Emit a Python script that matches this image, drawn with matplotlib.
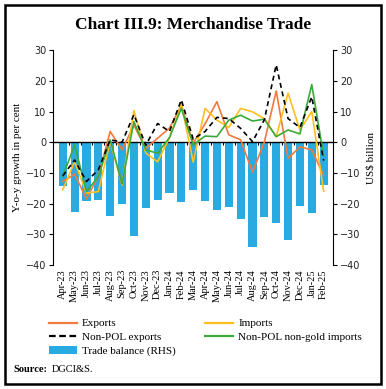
import matplotlib
matplotlib.use("Agg")
import matplotlib.pyplot as plt
from matplotlib.patches import Rectangle
from matplotlib.lines import Line2D
from matplotlib.patches import Patch
import numpy as np

months = ["Apr-23", "May-23", "Jun-23", "Jul-23", "Aug-23", "Sep-23", "Oct-23", "Nov-23",
          "Dec-23", "Jan-24", "Feb-24", "Mar-24", "Apr-24", "May-24", "Jun-24", "Jul-24",
          "Aug-24", "Sep-24", "Oct-24", "Nov-24", "Dec-24", "Jan-25", "Feb-25"]

exports = [-12.8, -10.4, -18.5, -11.0, 3.5, -2.5, 5.5, -2.0, 1.3, 4.6, 12.0, -0.3,
           6.0, 13.2, 2.4, 0.8, -9.8, 0.0, 16.7, -5.3, -1.5, -2.5, -10.8]
imports = [-15.5, -6.3, -16.6, -16.1, 0.3, -14.0, 10.3, -3.5, -6.4, 1.5, 12.5, -6.5,
           11.0, 7.2, 4.8, 11.0, 9.9, 7.7, 1.8, 16.0, 4.0, 10.0, -16.0]
nonpol_exports = [-11.0, -5.8, -12.8, -9.0, 0.8, 0.0, 9.0, -1.0, 6.1, 3.5, 13.8, 1.0,
                  3.5, 8.1, 7.7, 4.5, 0.2, 7.3, 25.2, 7.7, 4.8, 14.8, -6.0]
nonpol_nongold_imports = [-11.2, -0.9, -16.1, -11.2, 0.8, -13.6, 6.7, -2.5, -3.6, 1.5, 11.1, -0.9,
                          2.0, 1.8, 7.2, 8.8, 6.9, 7.5, 1.8, 4.0, 2.7, 18.8, -4.5]
trade_balance = [-14.4, -22.6, -19.1, -18.9, -24.0, -20.1, -30.5, -21.4, -18.8, -16.5, -19.5, -15.5,
                 -19.2, -22.1, -21.0, -24.9, -34.1, -24.4, -26.2, -31.9, -20.8, -23.0, -14.1]

yticks = [30, 20, 10, 0, -10, -20, -30, -40]

serif = ["Liberation Serif", "DejaVu Serif"]

fig = plt.figure(figsize=(3.86, 3.89), dpi=100)
fig.patch.set_facecolor("white")
fig.patches.append(Rectangle((0.014, 0.012), 0.972, 0.976, transform=fig.transFigure,
                             fill=False, edgecolor="black", linewidth=1.8))

ax = fig.add_axes([0.138, 0.319, 0.725, 0.552])
ax2 = ax.twinx()

x = np.arange(len(months))
ax2.bar(x, trade_balance, width=0.68, color="#29abe2", zorder=1)

ax.plot(x, exports, color="#f07a3e", lw=1.2, zorder=3)
ax.plot(x, imports, color="#ffbf1f", lw=1.2, zorder=3)
ax.plot(x, nonpol_nongold_imports, color="#3aaa3a", lw=1.2, zorder=4)
ax.plot(x, nonpol_exports, color="black", lw=1.2, ls=(0, (3.0, 2.2)), zorder=5)

ax.set_zorder(ax2.get_zorder() + 1)
ax.patch.set_visible(False)

for a in (ax, ax2):
    a.set_ylim(-40, 30)
    a.set_xlim(-0.8, len(months) - 0.2)
    a.set_yticks(yticks)
    a.tick_params(axis="y", labelsize=7, length=3, width=0.8, pad=2, labelcolor="#222222")
    a.spines["top"].set_visible(False)

ax.spines["right"].set_visible(False)
ax2.spines["left"].set_visible(False)
ax2.spines["bottom"].set_visible(False)
ax.spines["bottom"].set_position(("data", 0))
ax.spines["bottom"].set_linewidth(1.0)
ax.set_xticks(x[:-1] + 0.5)
ax.set_xticklabels([])
ax.tick_params(axis="x", direction="out", length=2.5, width=0.8)

sec = ax.secondary_xaxis("bottom")
sec.set_xticks(x)
sec.set_xticklabels(months, rotation=90, fontsize=7.5, family=serif)
sec.tick_params(length=0, pad=3)
sec.spines["bottom"].set_visible(False)

ax.set_ylabel("Y-o-y growth in per cent", fontsize=8, family=serif, labelpad=3)
ax2.set_ylabel("US$ billion", fontsize=8, family=serif, labelpad=4)

fig.text(0.5, 0.935, "Chart III.9: Merchandise Trade", ha="center", va="center",
         fontsize=12.5, fontweight="bold", family=serif)

h_exp = Line2D([], [], color="#f07a3e", lw=1.6)
h_imp = Line2D([], [], color="#ffbf1f", lw=1.6)
h_npe = Line2D([], [], color="black", lw=1.6, ls=(0, (3, 1.6)))
h_npi = Line2D([], [], color="#3aaa3a", lw=1.6)
h_tb = Patch(facecolor="#29abe2")
handles = [h_exp, h_npe, h_tb, h_imp, h_npi]
labels = ["Exports", "Non-POL exports", "Trade balance (RHS)", "Imports", "Non-POL non-gold imports"]
leg = fig.legend(handles, labels, ncol=2, loc="upper left", bbox_to_anchor=(0.112, 0.195),
                 frameon=False, prop={"family": serif, "size": 8}, handlelength=2.5,
                 handletextpad=0.5, columnspacing=2.6, labelspacing=0.35, borderpad=0)

fig.text(0.035, 0.05, "Source:", fontsize=7.5, fontweight="bold", family=serif, va="center")
fig.text(0.135, 0.05, "DGCI&S.", fontsize=7.5, family=serif, va="center")

fig.savefig("out.png", dpi=100)
